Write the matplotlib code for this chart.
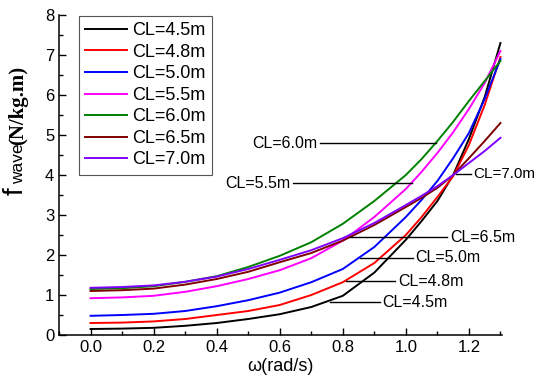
import matplotlib
matplotlib.use('Agg')
import matplotlib.pyplot as plt
import matplotlib.ticker as mticker

plt.rcParams['font.family'] = ['Liberation Sans', 'DejaVu Sans']

# omega (rad/s) sample points
omega = [0.0, 0.1, 0.2, 0.3, 0.4, 0.5, 0.6, 0.7, 0.8, 0.9, 1.0, 1.05, 1.1, 1.15, 1.2, 1.25, 1.3]

# f_wave (N/kg.m) per CL
f_45 = [0.15, 0.16, 0.18, 0.23, 0.30, 0.40, 0.52, 0.70, 0.98, 1.56, 2.38, 2.85, 3.35, 4.00, 4.90, 5.95, 7.30]
f_48 = [0.30, 0.31, 0.34, 0.40, 0.50, 0.60, 0.75, 1.00, 1.32, 1.80, 2.50, 2.95, 3.45, 3.97, 4.75, 5.75, 6.95]
f_50 = [0.48, 0.50, 0.53, 0.60, 0.72, 0.87, 1.06, 1.32, 1.65, 2.20, 2.95, 3.38, 3.85, 4.42, 5.05, 5.90, 6.90]
f_55 = [0.92, 0.94, 0.98, 1.08, 1.22, 1.40, 1.62, 1.92, 2.36, 2.95, 3.65, 4.08, 4.55, 5.07, 5.65, 6.30, 7.10]
f_60 = [1.15, 1.17, 1.22, 1.33, 1.47, 1.70, 1.98, 2.32, 2.78, 3.35, 4.00, 4.40, 4.85, 5.33, 5.85, 6.35, 6.85]
f_65 = [1.10, 1.12, 1.16, 1.26, 1.40, 1.58, 1.82, 2.05, 2.36, 2.75, 3.20, 3.43, 3.68, 4.00, 4.42, 4.85, 5.30]
f_70 = [1.18, 1.20, 1.24, 1.33, 1.46, 1.65, 1.88, 2.12, 2.42, 2.80, 3.25, 3.48, 3.72, 4.00, 4.30, 4.60, 4.93]

labels = ['CL=4.5m', 'CL=4.8m', 'CL=5.0m', 'CL=5.5m', 'CL=6.0m', 'CL=6.5m', 'CL=7.0m']
series = [f_45, f_48, f_50, f_55, f_60, f_65, f_70]
colors = ['#000000', '#ff0000', '#0000ff', '#ff00ff', '#008000', '#800000', '#8000ff']

# callouts: label, point on curve (x, y), x where the text starts
callouts = [
    ('CL=4.5m', 0.76, 0.82, 0.925),
    ('CL=4.8m', 0.81, 1.35, 0.975),
    ('CL=5.0m', 0.855, 1.93, 1.03),
    ('CL=6.5m', 0.822, 2.45, 1.14),
    ('CL=5.5m', 1.02, 3.80, 0.635),
    ('CL=6.0m', 1.095, 4.80, 0.72),
    ('CL=7.0m', 1.16, 4.03, 1.215),
]

fig = plt.figure(figsize=(5.36, 3.83), dpi=100)
ax = fig.add_axes([0.1101, 0.1253, 0.8265, 0.8355])

for y, lab, c in zip(series, labels, colors):
    ax.plot(omega, y, color=c, lw=1.4, label=lab)

for lab, xp, yp, xt in callouts:
    fs = 11 if lab == 'CL=7.0m' else 11.5
    if xt > xp:
        ax.plot([xp, xt - 0.008], [yp, yp], color='k', lw=1.0)
        ax.text(xt, yp, lab, fontsize=fs, va='center', ha='left', clip_on=False)
    else:
        ax.plot([xt + 0.008, xp], [yp, yp], color='k', lw=1.0)
        ax.text(xt, yp, lab, fontsize=fs, va='center', ha='right', clip_on=False)

ax.set_xlim(-0.1, 1.305)
ax.set_ylim(0, 8)
ax.xaxis.set_minor_locator(mticker.MultipleLocator(0.1))
ax.yaxis.set_major_locator(mticker.MultipleLocator(1))
ax.yaxis.set_minor_locator(mticker.MultipleLocator(0.5))
ax.set_xticks([0.0, 0.2, 0.4, 0.6, 0.8, 1.0, 1.2])
ax.xaxis.set_major_formatter(mticker.FormatStrFormatter('%.1f'))
ax.tick_params(which='major', direction='in', length=5, width=1, labelsize=12)
ax.tick_params(which='minor', direction='in', length=3, width=1)
ax.spines['top'].set_visible(False)
ax.spines['right'].set_visible(False)
for s in ['left', 'bottom']:
    ax.spines[s].set_linewidth(1.1)

ax.set_xlabel('ω(rad/s)', fontsize=13, labelpad=2)

# y label built from pieces: f + wave + (N/kg.m)
fig.text(0.0429, 0.49, 'f', fontsize=20, rotation=90, rotation_mode='anchor',
         ha='left', va='baseline')
fig.text(0.0429, 0.52, 'wave', fontsize=12.5, rotation=90, rotation_mode='anchor',
         ha='left', va='baseline')
fig.text(0.0429, 0.621, '(N/kg.m)', fontsize=15, rotation=90, rotation_mode='anchor',
         ha='left', va='baseline', family=['Liberation Serif', 'DejaVu Serif'], weight='bold')

leg = ax.legend(loc='upper left', bbox_to_anchor=(0.045, 0.997), fontsize=13,
                handlelength=2.3, handletextpad=0.3, labelspacing=0.25,
                borderpad=0.35, borderaxespad=0, fancybox=False, framealpha=1)
leg.get_frame().set_edgecolor('#555555')
leg.get_frame().set_linewidth(0.8)

fig.savefig('out.png', dpi=100)
